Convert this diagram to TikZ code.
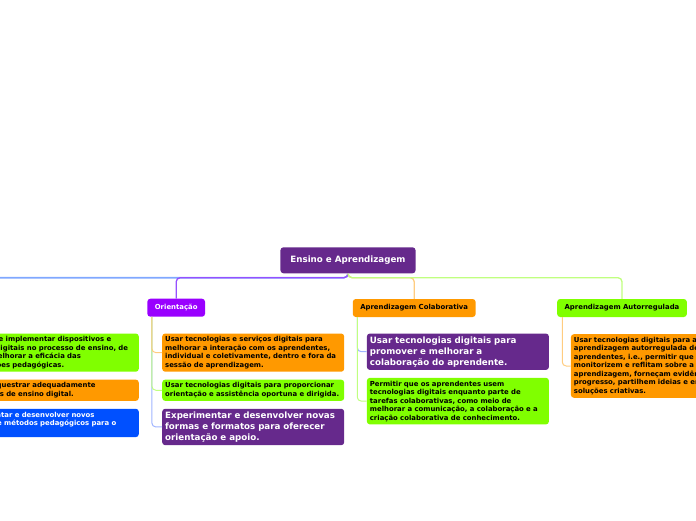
\documentclass[tikz,border=0pt]{standalone}
\usepackage{fontspec}
\setmainfont{DejaVu Sans}
\usepackage{xcolor}
\usepackage{tikz}
\usetikzlibrary{positioning,shapes,backgrounds}
\definecolor{rootpurple}{RGB}{102,41,140}
\definecolor{violetbox}{RGB}{153,0,255}
\definecolor{orangebox}{RGB}{255,153,0}
\definecolor{limebox}{RGB}{128,255,0}
\definecolor{bluebox}{RGB}{0,80,255}
\definecolor{bluelink}{RGB}{128,168,255}
\definecolor{violetlink}{RGB}{150,80,255}
\definecolor{orangelink}{RGB}{255,204,128}
\definecolor{greenlink}{RGB}{192,255,128}
\definecolor{sublink}{RGB}{160,180,255}
\tikzstyle{rt}=[%
      rectangle, rounded corners=3pt, fill=rootpurple, text=white,
      font=\bfseries\fontsize{8.7}{11}\selectfont, minimum height=26pt, inner xsep=10pt
]
\tikzstyle{hd}=[%
      rectangle, rounded corners=3pt, font=\bfseries\fontsize{6.9}{8.5}\selectfont,
      minimum height=18pt, inner xsep=7.5pt
]
\tikzstyle{sm}=[%
      rectangle, rounded corners=3pt, font=\bfseries\fontsize{6.9}{8.5}\selectfont,
      align=left, text width=176pt, inner xsep=3pt, inner ysep=3pt
]
\tikzstyle{bg}=[%
      rectangle, rounded corners=3pt, fill=rootpurple, text=white,
      font=\bfseries\fontsize{8.7}{11}\selectfont,
      align=left, text width=176pt, inner xsep=3pt, inner ysep=3pt
]
\tikzstyle{ln}=[%
      rounded corners=4pt, line width=1.3pt
]
\tikzstyle{sub}=[%
      rounded corners=4pt, line width=1pt
]
\begin{document}
\begin{tikzpicture}[x=1pt, y=-1pt, node distance=7.5pt]
    \clip (0,0) rectangle (696,520);

    \node[rt] (root) at (348,260.3) {Ensino e Aprendizagem};
    \node[hd, fill=violetbox, text=white] (ori) at (176.2,307.7) {Orientação};
    \node[hd, fill=orangebox] (col) at (414.2,308) {Aprendizagem Colaborativa};
    \node[hd, fill=limebox]   (aut) at (622,308)   {Aprendizagem Autorregulada};

    % ensino (parent off the page)
    \node[sm, fill=limebox, anchor=north east] (ens1) at (139,333.3)
        {Planificar e implementar dispositivos e\\recursos digitais no processo de ensino, de\\modo a melhorar a eficácia das\\intervenções pedagógicas.};
    \node[sm, fill=orangebox] (ens2) [below = of ens1]
        {Gerir e orquestrar adequadamente\\estratégias de ensino digital.};
    \node[sm, fill=bluebox, text=white] (ens3) [below = of ens2]
        {Experimentar e desenvolver novos\\formatos e métodos pedagógicos para o\\ensino.};

    % orientacao
    \node[sm, fill=orangebox, anchor=north west] (ori1) at (162,333.3)
        {Usar tecnologias e serviços digitais para\\melhorar a interação com os aprendentes,\\individual e coletivamente, dentro e fora da\\sessão de aprendizagem.};
    \node[sm, fill=limebox] (ori2) [below = of ori1]
        {Usar tecnologias digitais para proporcionar\\orientação e assistência oportuna e dirigida.};
    \node[bg] (ori3) [below = of ori2]
        {Experimentar e desenvolver novas\\formas e formatos para oferecer\\orientação e apoio.};

    % colaborativa
    \node[bg, anchor=north west] (col1) at (366.7,333.3)
        {Usar tecnologias digitais para\\promover e melhorar a\\colaboração do aprendente.};
    \node[sm, fill=limebox] (col2) [below = of col1]
        {Permitir que os aprendentes usem\\tecnologias digitais enquanto parte de\\tarefas colaborativas, como meio de\\melhorar a comunicação, a colaboração e a\\criação colaborativa de conhecimento.};

    % autorregulada
    \node[sm, fill=orangebox, anchor=north west] (aut1) at (570.7,334)
        {Usar tecnologias digitais para apoiar a\\aprendizagem autorregulada dos\\aprendentes, i.e., permitir que planifiquem,\\monitorizem e reflitam sobre a sua\\aprendizagem, forneçam evidências de\\progresso, partilhem ideias e encontrem\\soluções criativas.};

    \coordinate (bus) at (348,277.7);
    \coordinate (ens) at (-40,277.7);

    \draw[ln, draw=bluelink, line width=1.6pt] (root.south) -- (bus) -- (ens);
    \draw[ln, draw=violetlink] (root.south) -- (bus) -| (ori.north);
    \draw[ln, draw=orangelink] (root.south) -- (bus) -| (col.north);
    \draw[ln, draw=greenlink]  (root.south) -- (bus) -| (aut.north);

    \draw[sub, draw=sublink]    ([xshift=4.7pt]ori.south west) |- (ori3.west);
    \draw[sub, draw=greenlink]  ([xshift=4.7pt]ori.south west) |- (ori2.west);
    \draw[sub, draw=orangelink] ([xshift=4.7pt]ori.south west) |- (ori1.west);

    \draw[sub, draw=sublink]    ([xshift=4.7pt]col.south west) |- (col1.west);
    \draw[sub, draw=greenlink]  ([xshift=4.7pt]col.south west) |- (col2.west);

    \draw[sub, draw=orangelink] ([xshift=5.3pt]aut.south west) |- (aut1.west);
\end{tikzpicture}
\end{document}
